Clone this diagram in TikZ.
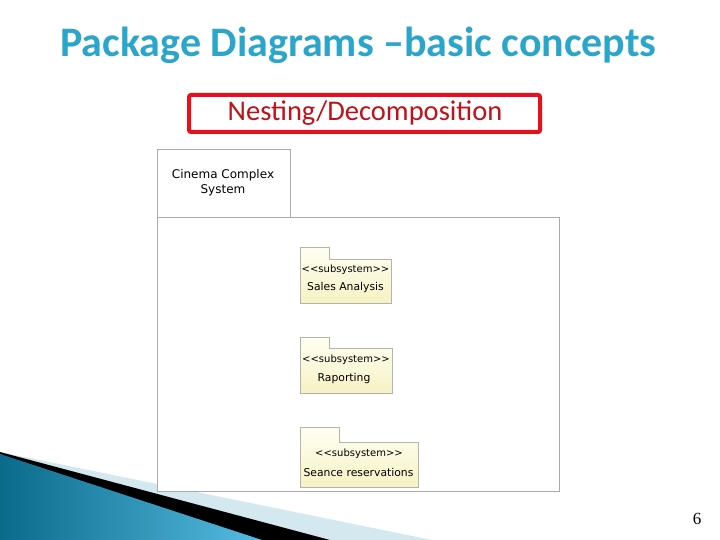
\documentclass[tikz,border=0pt]{standalone}
\usepackage{fontspec}
\setmainfont{Carlito}
\newfontfamily\titlefont{Carlito}
\newfontfamily\umlfont{DejaVu Sans}
\newfontfamily\numfont{Liberation Serif}
\definecolor{titleblue}{HTML}{2BA6CB}
\definecolor{boxred}{HTML}{E8101A}
\definecolor{textred}{HTML}{C0101A}
\definecolor{pkgline}{HTML}{AAAAAA}
\definecolor{subline}{HTML}{B4B4A8}
\definecolor{subtop}{HTML}{FFFFF2}
\definecolor{subbot}{HTML}{F6F2C4}
\definecolor{swdark}{HTML}{0B6A8A}
\definecolor{swlight}{HTML}{56BCE2}
\definecolor{swpale}{HTML}{D4E8F0}
\tikzset{
  umltext/.style={font=\umlfont\fontsize{10}{12}\selectfont, inner sep=0pt, text=black},
  umlname/.style={font=\umlfont\fontsize{10.8}{12}\selectfont, inner sep=0pt, text=black},
  pkgtext/.style={font=\umlfont\fontsize{12}{14}\selectfont, inner sep=0pt, text=black},
  pkgframe/.style={draw=pkgline, line width=1pt, fill=white},
  subframe/.style={draw=subline, line width=0.8pt, top color=subtop, bottom color=subbot},
}
\newcommand{\subpkg}[7]{% name, x0, y0 (tab top), tab right, tab bottom, x1, y1
  \path[subframe] (#2,#3) -- (#4,#3) -- (#4,#5) -- (#6,#5) -- (#6,#7) -- (#2,#7) -- cycle;
  \coordinate (#1) at ({(#2+#6)/2},{(#5+#7)/2});
}
\begin{document}
\begin{tikzpicture}[x=1pt,y=-1pt]
\useasboundingbox[fill=white] (0,0) rectangle (720,540);
% swoosh
\fill[swpale] (0,452) -- (432,540) -- (0,540) -- cycle;
\fill[black] (0,452) -- (330,540) -- (0,540) -- cycle;
\shade[left color=swdark, right color=swlight] (0,454) -- (262,540) -- (0,540) -- cycle;
% title
\node[font=\titlefont\bfseries\fontsize{42}{46}\selectfont, text=titleblue, anchor=base] (title) at (358.5,57) {Package Diagrams –basic concepts};
% red box
\node[draw=boxred, line width=4pt, rounded corners=2pt, minimum width=351pt, minimum height=37pt, inner sep=0pt] (nestbox) at (364.5,113.5) {};
\node[font=\fontsize{28.5}{32}\selectfont, text=textred, anchor=base] (nest) at (365,120.5) {Nesting/Decomposition};
% package frame
\path[pkgframe] (157,218) rectangle (559,491);
\path[pkgframe] (157,150) rectangle (290,218);
\node[pkgtext] (cc1) at (223,175) {Cinema Complex};
\node[pkgtext] (cc2) at (223,190) {System};
% subpackages
\subpkg{sa}{300}{247}{329}{259}{391}{303}
\node[umltext] (sa1) at (345.5,270) {<<subsystem>>};
\node[umlname] (sa2) at (345.5,288) {Sales Analysis};
\subpkg{rp}{300}{337}{329}{348}{392}{393}
\node[umltext] (rp1) at (346,359.5) {<<subsystem>>};
\node[umlname] (rp2) at (344,379) {Raporting};
\subpkg{sr}{300}{427}{339}{442}{418}{487}
\node[umltext] (sr1) at (359,454) {<<subsystem>>};
\node[umlname] (sr2) at (358.5,472.5) {Seance reservations};
% page number
\node[font=\numfont\fontsize{17}{20}\selectfont, text=black, anchor=base] (pnum) at (697,524) {6};
\end{tikzpicture}
\end{document}
